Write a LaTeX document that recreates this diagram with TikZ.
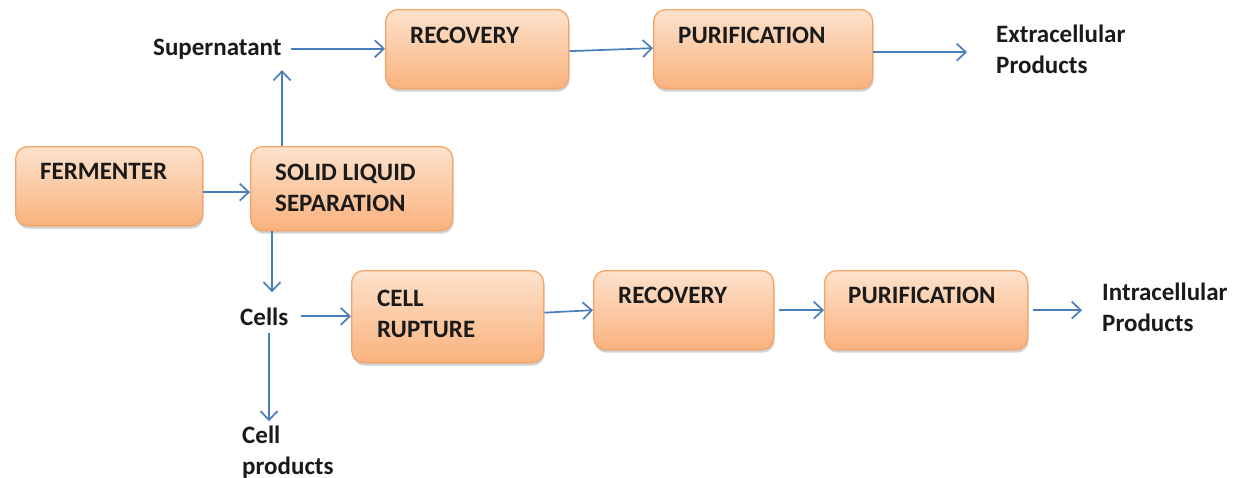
\documentclass[tikz,border=0pt]{standalone}
\usepackage{fontspec}
\setmainfont{Carlito}
\usetikzlibrary{arrows.meta,shadows,calc}
\definecolor{boxtop}{HTML}{FDE2CC}
\definecolor{boxbot}{HTML}{F9B27D}
\definecolor{boxline}{HTML}{F6A465}
\definecolor{arrowc}{HTML}{4A7EBB}
\definecolor{txt}{HTML}{1A1A1A}
\tikzset{
  procbox/.style={rectangle, rounded corners=12pt, draw=boxline, line width=1.3pt,
    top color=boxtop, bottom color=boxbot, anchor=north west, inner sep=0pt,
    drop shadow={shadow xshift=1pt, shadow yshift=-3pt, opacity=0.3, fill=black!60}},
  lbl/.style={inner sep=0pt, anchor=base west, text=txt, font=\fontsize{25}{31}\selectfont\bfseries},
  arr/.style={draw=arrowc, line width=1.7pt, -{Straight Barb[length=9pt,width=17pt,line width=1.7pt]}}
}
\begin{document}
\begin{tikzpicture}[x=1pt,y=-1pt]
\useasboundingbox (0,0) rectangle (1235,477);
% boxes
\node[procbox, minimum width=187pt, minimum height=79pt] (ferm) at (15,146) {};
\node[procbox, minimum width=202pt, minimum height=84pt] (sls) at (250,146) {};
\node[procbox, minimum width=183pt, minimum height=79pt] (rec1) at (385,9) {};
\node[procbox, minimum width=219pt, minimum height=79pt] (pur1) at (653,9) {};
\node[procbox, minimum width=192pt, minimum height=92pt] (cr) at (351,270) {};
\node[procbox, minimum width=180pt, minimum height=79pt] (rec2) at (593,270) {};
\node[procbox, minimum width=203pt, minimum height=79pt] (pur2) at (824,270) {};
% box texts
\node[lbl] (fermt) at (40,179) {FERMENTER};
\node[lbl] (slst) at (275,180) {\vtop{\hbox{SOLID LIQUID}\hbox{SEPARATION}}};
\node[lbl] (rec1t) at (410,43) {RECOVERY};
\node[lbl] (pur1t) at (678,43) {PURIFICATION};
\node[lbl] (crt) at (377,306) {\vtop{\hbox{CELL}\hbox{RUPTURE}}};
\node[lbl] (rec2t) at (618,303) {RECOVERY};
\node[lbl] (pur2t) at (848,303) {PURIFICATION};
% free labels
\node[lbl] (sup) at (153,55) {Supernatant};
\node[lbl] (extr) at (996,42) {\vtop{\hbox{Extracellular}\hbox{Products}}};
\node[lbl] (cells) at (240,325) {Cells};
\node[lbl] (cellp) at (242,443) {\vtop{\hbox{Cell}\hbox{products}}};
\node[lbl] (intr) at (1102,300) {\vtop{\hbox{Intracellular}\hbox{Products}}};
% connectors
\draw[arr] ($(ferm.east)+(0,6)$) -- ($(ferm.east -| sls.west)+(0,6)$);
\draw[arr] ($(sls.north west)+(32,0)$) -- ($(sls.north west |- sup.south)+(32,11)$);
\draw[arr] ($(sup.east)+(9,0)$) -- (sup.east -| rec1.west);
\draw[arr] ($(rec1.east)+(0,2)$) -- ($(pur1.west)+(0,-1)$);
\draw[arr] ($(pur1.east)+(0,3)$) -- ($(pur1.east -| extr.west)+(-29,3)$);
\draw[arr] ($(sls.south west)+(22,0)$) -- ($(sls.south west |- cells.north)+(22,-15)$);
\draw[arr] ($(cells.east)+(13,0)$) -- (cells.east -| cr.west);
\draw[arr] ($(cells.west)+(29,17)$) -- ($(cells.west |- cellp.north)+(29,-4)$);
\draw[arr] ($(cr.east)+(0,-4)$) -- (rec2.west);
\draw[arr] ($(rec2.east)+(5,0)$) -- (pur2.west);
\draw[arr] ($(pur2.east)+(5,0)$) -- ($(pur2.east -| intr.west)+(-20,0)$);
\end{tikzpicture}
\end{document}
